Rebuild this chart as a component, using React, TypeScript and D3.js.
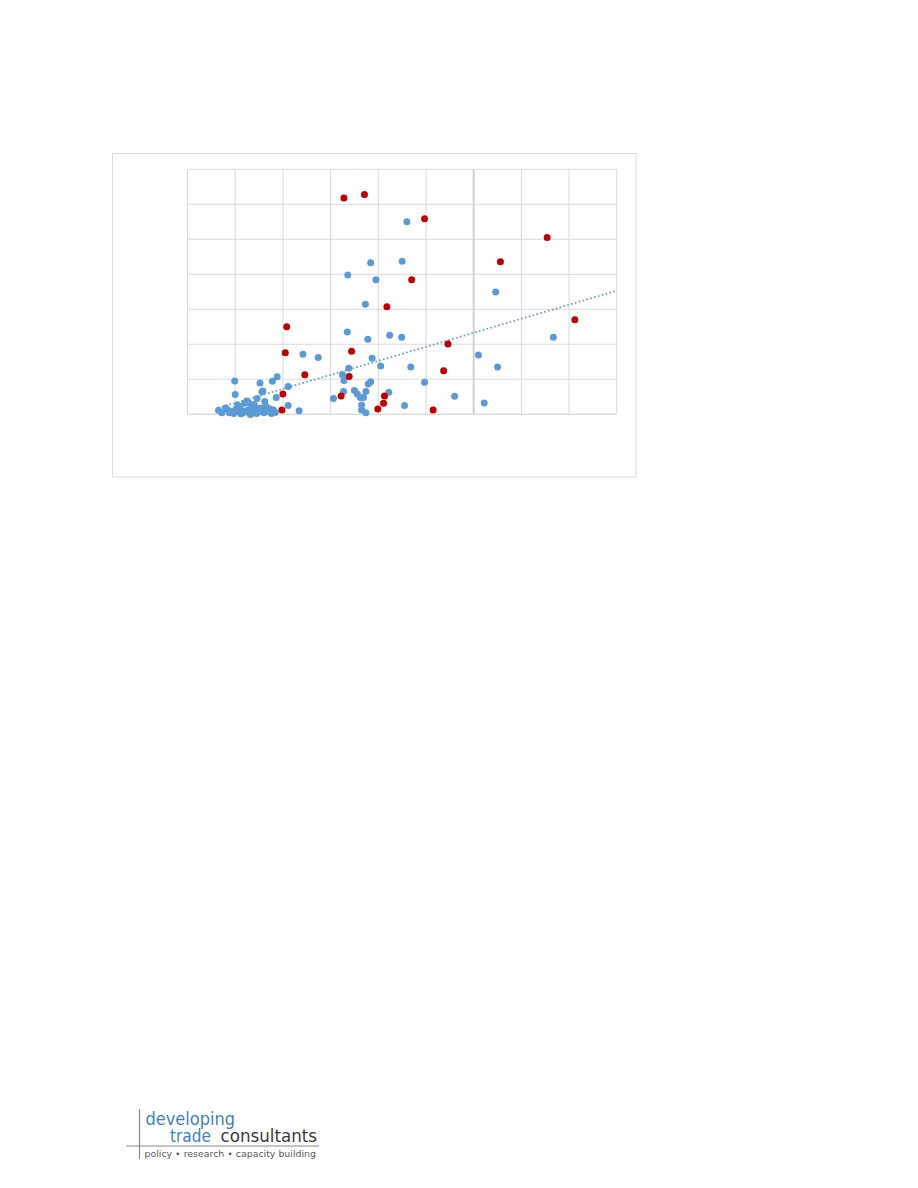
import React from 'react'
import * as d3 from 'd3'

// blue series (x, y in chart units)
const blueX = [
  4.6, 3.84, 4.5, 3.36, 3.95, 6.46, 3.73, 3.35, 4.24, 4.49, 3.78, 7.67, 2.42, 2.74, 6.1, 3.87, 4.05,
  4.68, 6.5, 3.38, 3.25, 3.28, 3.84, 3.79, 4.97, 4.22, 3.74, 3.5, 3.56, 3.27, 3.62, 3.69, 3.06, 5.6,
  6.22, 4.55, 3.65, 3.65, 3.74, 2.34, 2.11, 2.11, 1.86, 1.88, 1.78, 1.52, 0.99, 1.0, 1.58,
  0.65, 0.72, 0.85, 0.88, 0.93, 0.97, 1.02, 1.05, 1.08, 1.12, 1.15, 1.2, 1.24, 1.27, 1.3, 1.35, 1.38,
  1.42, 1.46, 1.5, 1.55, 1.56, 1.6, 1.62, 1.67, 1.7, 1.73, 1.76, 1.8, 1.84, 0.8, 1.06, 1.1, 1.4,
  1.48, 1.28, 0.95, 1.45, 1.18, 1.65, 1.32,
]
const blueY = [
  5.5, 4.33, 4.37, 3.98, 3.84, 3.49, 3.14, 2.35, 2.26, 2.2, 2.14, 2.2, 1.71, 1.62, 1.69, 1.6, 1.38,
  1.35, 1.35, 1.31, 1.13, 0.96, 0.93, 0.86, 0.91, 0.63, 0.65, 0.68, 0.58, 0.65, 0.48, 0.48, 0.45, 0.51,
  0.32, 0.25, 0.26, 0.12, 0.04, 0.1, 0.25, 0.79, 0.48, 1.07, 0.94, 0.89, 0.95, 0.56, 0.66,
  0.11, 0.04, 0.12, 0.04, 0.08, 0.02, 0.15, 0.26, 0.06, 0.01, 0.1, 0.31, 0.38, 0.12, 0.05, 0.2, 0.05,
  0.14, 0.45, 0.08, 0.18, 0.64, 0.04, 0.36, 0.12, 0.08, 0.15, 0.02, 0.12, 0.05, 0.18, 0.17, 0.22, 0.28,
  0.17, 0.33, 0.05, 0.02, 0.05, 0.22, -0.01,
]

// red series
const redX = [
  3.28, 3.71, 4.97, 7.54, 6.56, 4.7, 4.18, 8.12, 2.08, 2.05, 3.44, 5.46, 2.46, 3.39, 5.37, 2.0, 3.22,
  4.13, 4.11, 3.99, 5.15, 1.98,
]
const redY = [
  6.18, 6.28, 5.59, 5.05, 4.36, 3.84, 3.07, 2.7, 2.5, 1.76, 1.8, 2.01, 1.13, 1.08, 1.24, 0.58, 0.52,
  0.52, 0.31, 0.15, 0.12, 0.12,
]

// linear trend line of the blue series
const trendX = [0.72, 9]
const trendY = [0.21, 3.53]

const xDomain = [0, 9]
const yDomain = [0, 7]
const axisAt = 6

const tagline = ['policy', 'research', 'capacity building']

function App() {
  const x = d3.scaleLinear().domain(xDomain).range([187.5, 616.8])
  const y = d3.scaleLinear().domain(yDomain).range([414.2, 169.3])

  const line = d3
    .line<number>()
    .x((d) => x(trendX[d]))
    .y((d) => y(trendY[d]))

  const blue = blueX.map((v, i) => [v, blueY[i]])
  const red = redX.map((v, i) => [v, redY[i]])

  return (
    <svg
      width={918}
      height={1188}
      style={{position: 'absolute', left: 0, top: 0}}
      fontFamily="'DejaVu Sans', Verdana, sans-serif">
      <rect x={0} y={0} width={918} height={1188} fill="#fff" />
      {/* chart frame */}
      <rect x={112.5} y={153.5} width={523.5} height={323.5} fill="#fff" stroke="#d9d9d9" />

      {/* gridlines */}
      {d3.range(yDomain[0], yDomain[1] + 1).map((t) => (
        <line
          key={'h' + t}
          x1={x(xDomain[0])}
          x2={x(xDomain[1])}
          y1={y(t)}
          y2={y(t)}
          stroke={t === 0 ? '#cccccc' : '#d9d9d9'}
          strokeWidth={1}
        />
      ))}
      {d3.range(xDomain[0], xDomain[1] + 1).map((t) => (
        <line
          key={'v' + t}
          x1={x(t)}
          x2={x(t)}
          y1={y(yDomain[0])}
          y2={y(yDomain[1])}
          stroke={t === axisAt ? '#d0d0d0' : '#d9d9d9'}
          strokeWidth={t === axisAt ? 2 : 1}
        />
      ))}

      {blue.map((d, i) => (
        <circle key={'b' + i} cx={x(d[0])} cy={y(d[1])} r={3.5} fill="#5b9bd5" />
      ))}

      <path
        d={line([0, 1]) || ''}
        fill="none"
        stroke="#5b9bd5"
        strokeWidth={1.75}
        strokeDasharray="1.6 2.4"
      />

      {red.map((d, i) => (
        <circle key={'r' + i} cx={x(d[0])} cy={y(d[1])} r={3.5} fill="#c00000" />
      ))}

      {/* logo */}
      <line x1={139.5} x2={139.5} y1={1109} y2={1159} stroke="#8a8a8a" strokeWidth={1.2} />
      <line x1={126} x2={319} y1={1146} y2={1146} stroke="#8a8a8a" strokeWidth={1.2} />
      <text x={145.5} y={1125} fontSize={18} fill="#3f7fc4" textLength={89.5} lengthAdjust="spacingAndGlyphs">
        developing
      </text>
      <text x={170} y={1141.5} fontSize={18} fill="#3f7fc4" textLength={41} lengthAdjust="spacingAndGlyphs">
        trade
      </text>
      <text x={220.5} y={1141.5} fontSize={18} fill="#3a3a3a" textLength={96.5} lengthAdjust="spacingAndGlyphs">
        consultants
      </text>
      <text x={144.5} y={1156.5} fontSize={8.5} fill="#5a5a5a" textLength={171.5} lengthAdjust="spacingAndGlyphs">
        {tagline.join('  \u2022  ')}
      </text>
    </svg>
  )
}

export default App
